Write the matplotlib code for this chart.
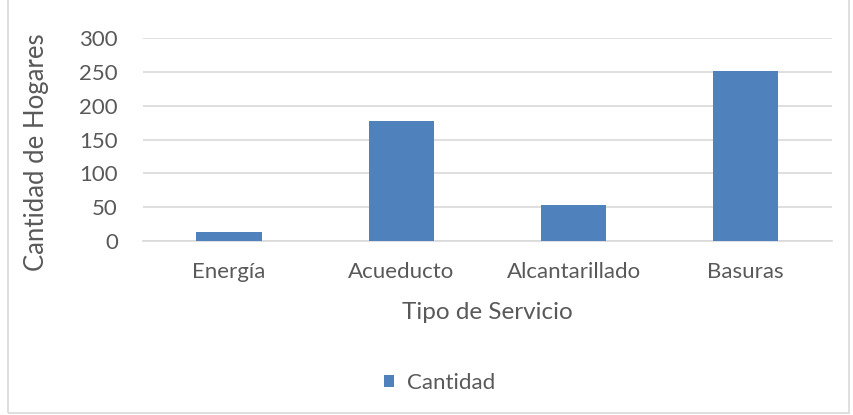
import matplotlib
matplotlib.use('Agg')
from matplotlib import pyplot as plt
from matplotlib.patches import Rectangle
import numpy as np

categorias = ['Energía', 'Acueducto', 'Alcantarillado', 'Basuras']
cantidad = [13, 177, 54, 251]
yticks = [0, 50, 100, 150, 200, 250, 300]

plt.rcParams['font.family'] = ['Lato', 'DejaVu Sans']
gris = '#595959'

fig = plt.figure(figsize=(8.54, 4.15), dpi=100)
ax = fig.add_axes([0.1675, 0.419, 0.8065, 0.4894])

x = np.arange(len(categorias))
ax.bar(x, cantidad, width=0.38, color='#4f81bd', label='Cantidad', zorder=3)

ax.set_xlim(-0.5, len(categorias) - 0.5)
ax.set_ylim(0, 300)
ax.set_yticks(yticks)
ax.set_xticks(x)
ax.set_xticklabels(categorias)
ax.yaxis.grid(True, color='#d9d9d9', linewidth=1.2, zorder=0)
for s in ['top', 'right', 'left']:
    ax.spines[s].set_visible(False)
ax.spines['bottom'].set_color('#d9d9d9')
ax.spines['bottom'].set_linewidth(1.2)
ax.tick_params(axis='both', length=0, labelsize=16, colors=gris)
ax.tick_params(axis='y', pad=18)
ax.tick_params(axis='x', pad=15)

ax.set_xlabel('Tipo de Servicio', fontsize=17.5, color=gris)
ax.xaxis.set_label_coords(0.5, -0.35)
ax.xaxis.label.set_va('center')
ax.set_ylabel('Cantidad de Hogares', fontsize=18.5, color=gris)
ax.yaxis.set_label_coords(-0.155, 0.44)
ax.yaxis.label.set_va('center')

leg = fig.legend(loc='center', bbox_to_anchor=(0.515, 0.077), frameon=False,
                 fontsize=16, handlelength=0.45, handleheight=0.45,
                 handletextpad=0.6, labelcolor=gris)

# borde del grafico
fig.patches.append(Rectangle((8 / 854, 2 / 415), 841 / 854, 420 / 415,
                             transform=fig.transFigure, fill=False,
                             edgecolor='#d9d9d9', linewidth=1.2))

fig.savefig('out.png', dpi=100)
